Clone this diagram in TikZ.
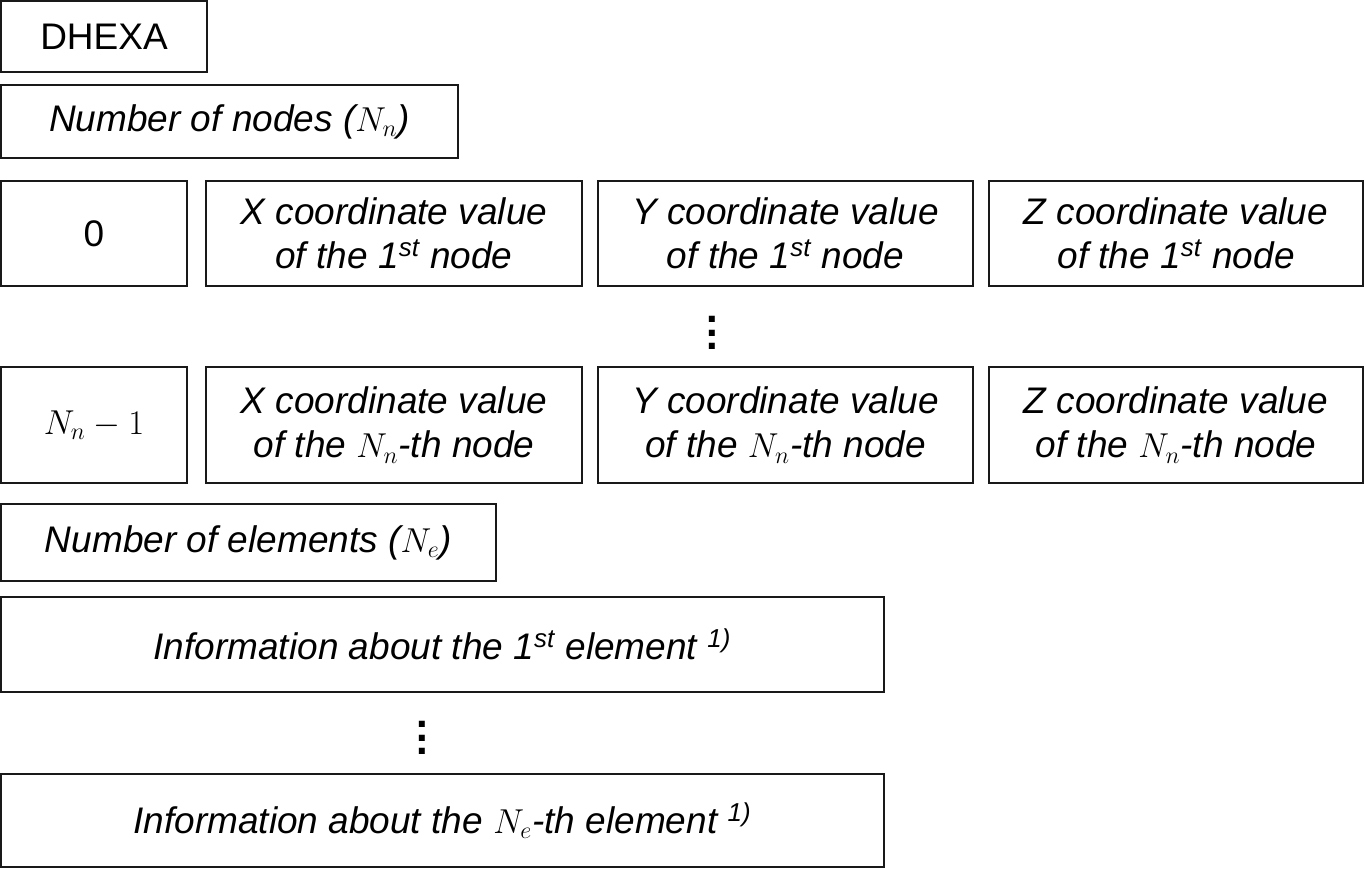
\documentclass[tikz,border=0pt]{standalone}
\usepackage{fontspec}
\setmainfont{Liberation Sans}
\newcommand\colvdots{\vbox{\baselineskip=6.6pt\lineskiplimit=-20pt\lineskip=0pt\hbox{.}\hbox{.}\hbox{.}}}
\begin{document}
\begin{tikzpicture}[x=0.5pt,y=-0.5pt,
  box/.style={draw=black!90, line width=1.25pt, inner sep=0pt, align=center,
    font=\fontsize{18.5}{22}\selectfont\itshape},
  plain/.style={box, font=\fontsize{18.5}{22}\selectfont\upshape},
  dotsnode/.style={inner sep=0pt, font=\fontsize{21}{24}\selectfont\bfseries}]
\useasboundingbox (0,0) rectangle (1365,869);
\node[plain, minimum width=103pt, minimum height=35.5pt] (dhexa) at (104,36.5) {DHEXA};
\node[box, minimum width=228.5pt, minimum height=36.5pt] (nnodes) at (229.5,121.5) {Number of nodes ($N_n$)};
% row 1
\node[plain, minimum width=93pt, minimum height=52.5pt] (zero) at (94,233.5) {0};
\node[box, minimum width=188pt, minimum height=52.5pt] (xa) at (394,233.5) {X coordinate value\\of the 1\textsuperscript{st} node};
\node[box, minimum width=187.5pt, minimum height=52.5pt] (ya) at (785.5,233.5) {Y coordinate value\\of the 1\textsuperscript{st} node};
\node[box, minimum width=187pt, minimum height=52.5pt] (za) at (1176,233.5) {Z coordinate value\\of the 1\textsuperscript{st} node};
\node[dotsnode] (dotsa) at (712,333) {\colvdots};
% row 2
\node[plain, minimum width=93pt, minimum height=58pt] (last) at (94,425) {$N_n-1$};
\node[box, minimum width=188pt, minimum height=58pt] (xb) at (394,425) {X coordinate value\\of the $N_n$-th node};
\node[box, minimum width=187.5pt, minimum height=58pt] (yb) at (785.5,425) {Y coordinate value\\of the $N_n$-th node};
\node[box, minimum width=187pt, minimum height=58pt] (zb) at (1176,425) {Z coordinate value\\of the $N_n$-th node};
% elements
\node[box, minimum width=247.5pt, minimum height=38.5pt] (nelem) at (248.5,542.5) {Number of elements ($N_e$)};
\node[box, minimum width=441.5pt, minimum height=47.5pt] (infoa) at (442.5,644.5) {Information about the 1\textsuperscript{st} element \textsuperscript{1)}};
\node[dotsnode] (dotsb) at (422,738) {\colvdots};
\node[box, minimum width=441.5pt, minimum height=46.5pt] (infob) at (442.5,820.5) {Information about the $N_e$-th element \textsuperscript{1)}};
\end{tikzpicture}
\end{document}
